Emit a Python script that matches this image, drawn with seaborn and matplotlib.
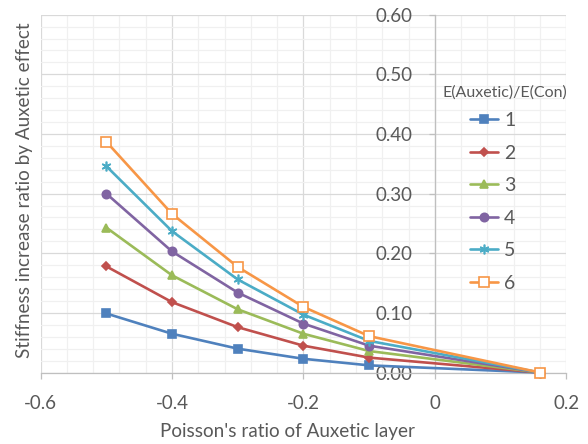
import matplotlib
matplotlib.use("Agg")
import matplotlib.pyplot as plt
import seaborn as sns
import numpy as np
from matplotlib.ticker import MultipleLocator, FixedLocator, FixedFormatter

# ---- data ----
poisson = [-0.5, -0.4, -0.3, -0.2, -0.1, 0.16]
ratio_1 = [0.099, 0.065, 0.040, 0.023, 0.012, 0.0]
ratio_2 = [0.178, 0.118, 0.076, 0.045, 0.025, 0.0]
ratio_3 = [0.243, 0.163, 0.106, 0.065, 0.036, 0.0]
ratio_4 = [0.300, 0.203, 0.134, 0.082, 0.045, 0.0]
ratio_5 = [0.346, 0.237, 0.156, 0.097, 0.053, 0.0]
ratio_6 = [0.387, 0.266, 0.177, 0.110, 0.061, 0.0]
series_labels = ["1", "2", "3", "4", "5", "6"]
legend_title = "E(Auxetic)/E(Con)"
x_ticks = [-0.6, -0.4, -0.2, 0.0, 0.2]
x_tick_labels = ["-0.6", "-0.4", "-0.2", "0", "0.2"]
y_ticks = [0.0, 0.1, 0.2, 0.3, 0.4, 0.5, 0.6]
y_tick_labels = ["0.00", "0.10", "0.20", "0.30", "0.40", "0.50", "0.60"]

sns.set_theme(style="white")
plt.rcParams["font.family"] = ["Lato", "DejaVu Sans"]
plt.rcParams["axes.unicode_minus"] = False

text_color = "#595959"
colors = ["#4F81BD", "#C0504D", "#9BBB59", "#8064A2", "#4BACC6", "#F79646"]
markers = ["s", "D", "^", "o", (6, 2, 0), "s"]
msizes = [6, 3.8, 6, 6, 7, 6.5]

fig = plt.figure(figsize=(5.88, 4.44), dpi=100)
ax = fig.add_axes([0.069, 0.161, 0.894, 0.806])

all_series = [ratio_1, ratio_2, ratio_3, ratio_4, ratio_5, ratio_6]
for vals, col, mk, ms, lab in zip(all_series, colors, markers, msizes, series_labels):
    sns.lineplot(x=poisson, y=vals, ax=ax, color=col, marker=mk, markersize=ms,
                 mec=col, mew=1.2, linewidth=1.9, label=lab, clip_on=False,
                 legend=False, zorder=3)
# open square for the last series
ax.lines[5].set_markerfacecolor("white")

ax.set_xlim(-0.6, 0.2)
ax.set_ylim(0, 0.6)
ax.xaxis.set_major_locator(FixedLocator(x_ticks))
ax.xaxis.set_major_formatter(FixedFormatter(x_tick_labels))
ax.yaxis.set_major_locator(FixedLocator(y_ticks))
ax.yaxis.set_major_formatter(FixedFormatter(y_tick_labels))
ax.xaxis.set_minor_locator(MultipleLocator(0.04))
ax.yaxis.set_minor_locator(MultipleLocator(0.02))

ax.grid(which="major", color="#d9d9d9", linewidth=0.9, zorder=0)
ax.grid(which="minor", color="#f0f0f0", linewidth=0.9, zorder=0)
ax.set_axisbelow(True)

for s in ["top", "right"]:
    ax.spines[s].set_visible(False)
ax.spines["left"].set_position(("data", 0))
for s in ["left", "bottom"]:
    ax.spines[s].set_color("#bfbfbf")
    ax.spines[s].set_linewidth(0.9)

ax.tick_params(axis="both", which="major", direction="out", length=4,
               width=0.9, color="#bfbfbf", labelcolor=text_color, labelsize=13.5)
ax.tick_params(axis="y", which="major", pad=12)
ax.tick_params(axis="x", which="major", pad=12)
ax.tick_params(which="minor", length=0)
ax.tick_params(axis="both", which="both", bottom=True, left=True)

ax.set_xlabel("Poisson's ratio of Auxetic layer", fontsize=13.6, color=text_color)
ax.set_ylabel("Stiffness increase ratio by Auxetic effect", fontsize=13.6,
              color=text_color)
ax.xaxis.set_label_coords(0.47, -0.14)
ax.yaxis.set_label_coords(-0.015, 0.509)

handles = ax.lines[:6]
leg = ax.legend(handles=handles, labels=series_labels, frameon=False,
                loc="upper left", bbox_to_anchor=(470 / 588, 1 - 112 / 444),
                bbox_transform=fig.transFigure, borderpad=0, borderaxespad=0,
                fontsize=14, handlelength=1.45, handletextpad=0.3,
                labelspacing=0.8, labelcolor=text_color)
fig.text(443 / 588, 1 - 93 / 444, legend_title, fontsize=11.5, color=text_color,
         ha="left", va="center")

fig.savefig("out.png", dpi=100)
